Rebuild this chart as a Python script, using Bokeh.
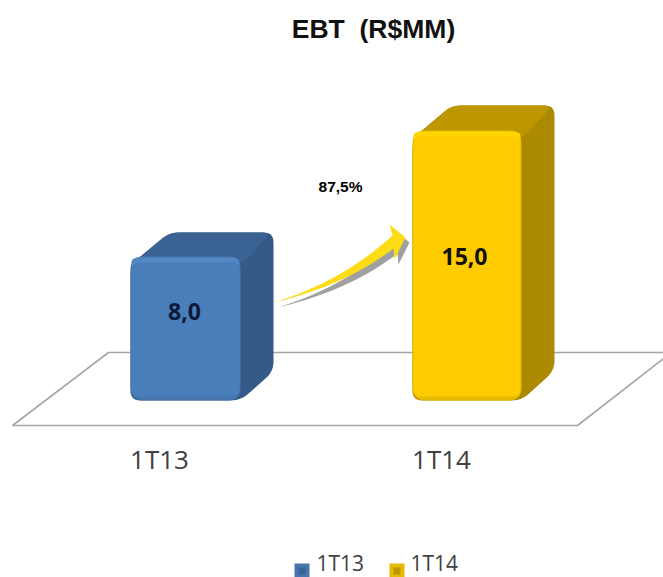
from bokeh.plotting import figure
from bokeh.models import Range1d
from bokeh.core.properties import value
from bokeh.embed import file_html
from bokeh.resources import INLINE
import numpy as np

title_text = "EBT\u00a0\u00a0(R$MM)"
categories = ["1T13", "1T14"]
values = [8.0, 15.0]
value_labels = ["8,0", "15,0"]
change_label = "87,5%"

W, H = 663, 577
PX_PER_UNIT = 18.0
BASE = 400.0

def Y(py):
    return (BASE - py) / PX_PER_UNIT

p = figure(width=W, height=H, output_backend="svg", toolbar_location=None,
           x_range=Range1d(0, W), y_range=Range1d(Y(H), Y(0)),
           min_border=0, outline_line_color=None, background_fill_color="white")
p.axis.visible = False
p.grid.visible = False

def rounded(pts, r):
    xs, ys = [], []
    n = len(pts)
    for i in range(n):
        p0 = np.array(pts[i - 1], float); p1 = np.array(pts[i], float); p2 = np.array(pts[(i + 1) % n], float)
        a = p1 + (p0 - p1) / np.linalg.norm(p0 - p1) * min(r, np.linalg.norm(p0 - p1) / 2)
        b = p1 + (p2 - p1) / np.linalg.norm(p2 - p1) * min(r, np.linalg.norm(p2 - p1) / 2)
        for t in np.linspace(0, 1, 8):
            q = (1 - t) ** 2 * a + 2 * t * (1 - t) * p1 + t ** 2 * b
            xs.append(q[0]); ys.append(q[1])
    return xs, ys

def poly(pts, color, r=0, alpha=1.0):
    if r:
        xs, ys = rounded(pts, r)
    else:
        xs = [q[0] for q in pts]; ys = [q[1] for q in pts]
    p.patch(list(xs), [Y(v) for v in ys], fill_color=color, line_color=None, fill_alpha=alpha)

# floor
p.line([12, 108, 663], [Y(v) for v in [425, 352, 352]], line_color="#a6a6a6", line_width=1.6)
p.line([12, 577, 663], [Y(v) for v in [425, 425, 358]], line_color="#a6a6a6", line_width=1.6)

styles = [
    dict(left=130, w=110, dx=33, dy=24, lx=184, ly=311, front="#4a7ebb", edge="#4676ad", hi="#5288c4", top="#3a6394", side="#345a87", text="#0b1a3a"),
    dict(left=412, w=109, dx=33, dy=25, lx=464, ly=256, front="#ffcc00", edge="#e6ba00", hi="#ffd500", top="#bd9700", side="#ab8900", text="#111111"),
]

for v, s in zip(values, styles):
    top = BASE - v * PX_PER_UNIT
    l, r, d, e = s["left"], s["left"] + s["w"], s["dx"], s["dy"]
    poly([(l, top + 8), (l + d + 6, top - e), (r + d, top - e), (r + d, BASE - e - 5), (r, BASE), (l, BASE)], s["side"], r=10)
    poly([(l, top + 9), (l + d + 6, top - e), (r + d - 2, top - e), (r, top + 9)], s["top"], r=9)
    poly([(l, top), (r, top), (r, BASE), (l, BASE)], s["edge"], r=13)
    poly([(l + 1, top + 1), (r - 1, top + 1), (r - 1, top + 12), (l + 1, top + 12)], s["hi"], r=8)
    poly([(l + 1, top + 6), (r - 1, top + 6), (r - 1, BASE - 4), (l + 1, BASE - 4)], s["front"], r=8)

for lab, s in zip(value_labels, styles):
    p.text([s["lx"]], [Y(s["ly"])], text=[lab], text_font=value("Open Sans"), text_font_style="bold",
           text_font_size="23px", text_color=s["text"], text_align="center", text_baseline="middle")

# growth arrow: shadow first, then the yellow one
def bez(a, c, b, n=24):
    t = np.linspace(0, 1, n)[:, None]
    return [tuple(q) for q in (1 - t) ** 2 * np.array(a) + 2 * t * (1 - t) * np.array(c) + t ** 2 * np.array(b)]

ARROW_OUTLINE = (bez((273, 302), (340, 282), (392, 235))
                 + [(389, 224), (405, 237), (394, 259)]
                 + bez((393, 248), (345, 285), (273, 302)))

def arrow(ox, oy, color):
    poly([(a + ox, b + oy) for a, b in ARROW_OUTLINE], color)

arrow(4, 5, "#a0a0a0")
arrow(0, 0, "#fbdc16")

p.text([340], [Y(186)], text=[change_label], text_font=value("Liberation Sans"), text_font_style="bold",
       text_font_size="15.5px", text_color="#000000", text_align="center", text_baseline="middle")

p.text([373], [Y(28)], text=[title_text], text_font=value("Liberation Sans"), text_font_style="bold",
       text_font_size="26.5px", text_color="#111111", text_align="center", text_baseline="middle")

for cat, px in zip(categories, [159, 441]):
    p.text([px], [Y(458)], text=[cat], text_font=value("Open Sans"), text_font_size="26px",
           text_color="#404040", text_align="center", text_baseline="middle")

# legend
for cat, s, sx, tx in zip(categories, styles, [294, 389], [316, 410]):
    poly([(sx, 563), (sx + 15, 563), (sx + 15, 577), (sx, 577)], s["edge"])
    poly([(sx + 4, 567), (sx + 11, 567), (sx + 11, 574), (sx + 4, 574)], s["top"])
    p.text([tx], [Y(562)], text=[cat], text_font=value("Open Sans"), text_font_size="21px",
           text_color="#404040", text_align="left", text_baseline="middle")

open("out.html", "w").write(file_html(p, INLINE))
